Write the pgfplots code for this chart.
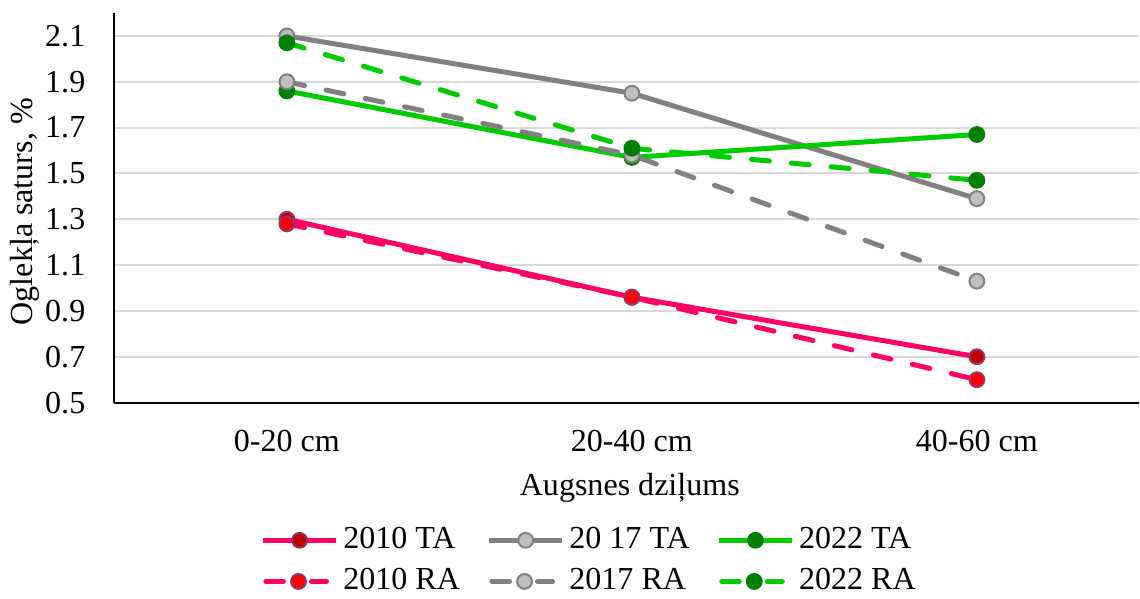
\documentclass[border=0pt]{standalone}
\usepackage{fontspec}
\setmainfont{Liberation Serif}
\usepackage{pgfplots}
\pgfplotsset{compat=1.18}
\definecolor{pinkl}{RGB}{255,0,102}
\definecolor{darkredm}{RGB}{192,0,0}
\definecolor{redm}{RGB}{255,0,0}
\definecolor{mkedge}{RGB}{153,51,102}
\definecolor{grayl}{RGB}{128,128,128}
\definecolor{graym}{RGB}{191,191,191}
\definecolor{greenl}{RGB}{0,204,0}
\definecolor{greenm}{RGB}{0,128,0}
\definecolor{gridc}{RGB}{217,217,217}
\pgfplotsset{
  ralegend/.style={legend image code/.code={
    \draw[##1, solid, line cap=round] (1.25pt,0pt) -- (10pt,0pt);
    \draw[##1, solid, line cap=round] (24pt,0pt) -- (31.5pt,0pt);
    \draw[##1, solid, line cap=butt] plot coordinates {(17.5pt,0pt)};
  }},
}
\begin{document}
\fontsize{16}{19}\selectfont
\begin{tikzpicture}
\begin{axis}[
  scale only axis, width=511.5pt, height=194.5pt,
  xmin=-0.5, xmax=2.47, ymin=0.5, ymax=2.2,
  axis lines*=left,
  axis line style={black, line width=1pt},
  xtick={0,1,2}, xticklabels={0-20 cm,20-40 cm,40-60 cm},
  ytick={0.5,0.7,0.9,1.1,1.3,1.5,1.7,1.9,2.1},
  major tick length=0pt,
  ymajorgrids, grid style={gridc, line width=1pt},
  /pgf/number format/.cd, fixed, fixed zerofill, precision=1, assume math mode=true,
  /pgfplots/.cd,
  yticklabel style={xshift=-9pt},
  xticklabel style={yshift=-8pt},
  xlabel={Augsnes dziļums},
  xlabel style={at={(axis description cs:0.503,0)}, anchor=center, yshift=-42.5pt},
  ylabel={Oglekļa saturs, \%},
  ylabel style={at={(axis description cs:0,0.49)}, anchor=center, yshift=44.5pt},
  legend columns=3,
  legend style={draw=none, fill=none, inner sep=0pt, at={(axis description cs:0.465,0)}, anchor=north, yshift=-60pt,
    nodes={inner ysep=2pt, inner xsep=2.5pt},
    /tikz/every even column/.append style={column sep=11pt}, row sep=3.5pt, font=\fontsize{16}{19}\selectfont},
  legend cell align=left,
  legend image code/.code={\draw[mark repeat=2,mark phase=2,#1] plot coordinates {(0cm,0cm) (0.635cm,0cm) (1.27cm,0cm)};},
  every axis plot/.append style={line width=2.5pt},
  clip=false,
]
\coordinate (top) at (rel axis cs:0,1);
% 2010 TA
\addplot[pinkl, mark=*, mark size=3.7pt, mark options={solid, fill=darkredm, draw=mkedge, line width=1pt}]
  coordinates {(0,1.30) (1,0.96) (2,0.70)};
\addlegendentry{2010 TA}
% 2017 TA
\addplot[grayl, mark=*, mark size=3.7pt, mark options={solid, fill=graym, draw=grayl, line width=1pt}]
  coordinates {(0,2.10) (1,1.85) (2,1.39)};
\addlegendentry{20 17 TA}
% 2022 TA
\addplot[greenl, mark=*, mark size=3.7pt, mark options={solid, fill=greenm, draw=greenm, line width=1pt}]
  coordinates {(0,1.86) (1,1.57) (2,1.67)};
\addlegendentry{2022 TA}
% 2010 RA
\addplot[pinkl, ralegend, dash pattern=on 9pt off 11pt, line cap=round, mark=*, mark size=3.7pt, mark options={solid, fill=redm, draw=mkedge, line width=1pt}]
  coordinates {(0,1.28) (1,0.96) (2,0.60)};
\addlegendentry{2010 RA}
% 2017 RA
\addplot[grayl, ralegend, dash pattern=on 9pt off 11pt, line cap=round, mark=*, mark size=3.7pt, mark options={solid, fill=graym, draw=grayl, line width=1pt}]
  coordinates {(0,1.90) (1,1.58) (2,1.03)};
\addlegendentry{2017 RA}
% 2022 RA
\addplot[greenl, ralegend, dash pattern=on 9pt off 11pt, line cap=round, mark=*, mark size=3.7pt, mark options={solid, fill=greenm, draw=greenm, line width=1pt}]
  coordinates {(0,2.07) (1,1.61) (2,1.47)};
\addlegendentry{2022 RA}
\end{axis}
\path (top) -- ++(0,6.5pt);
\end{tikzpicture}
\end{document}
